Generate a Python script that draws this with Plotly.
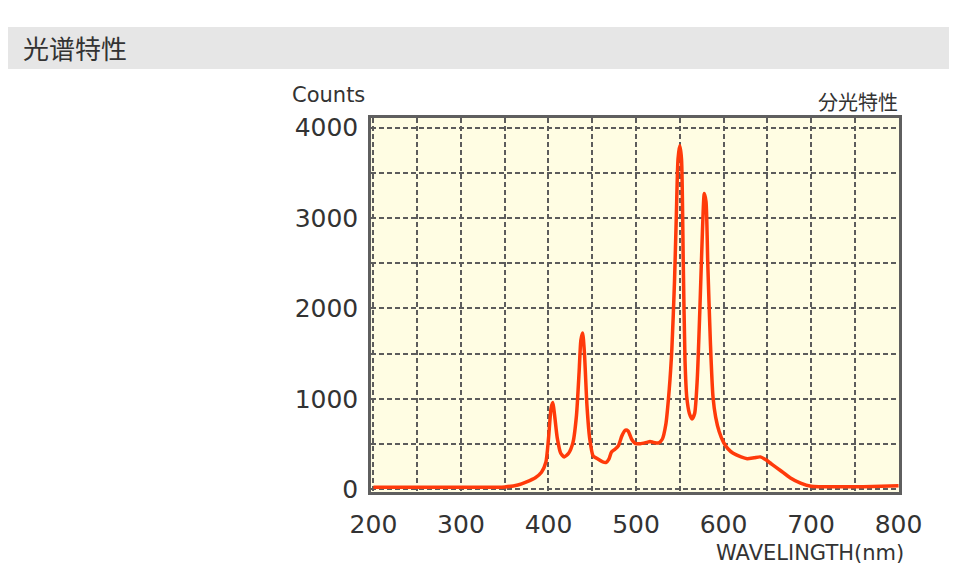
import plotly.graph_objects as go

# Spectral curve (wavelength nm, counts)
wavelength = [200, 300, 350, 365, 375, 385, 392, 397, 400, 403, 405, 407, 410, 414, 418,
              423, 428, 432, 435, 437, 439, 441, 444, 447, 451, 456, 462, 466, 469, 472,
              476, 480, 484, 488, 491, 495, 499, 505, 512, 516, 520, 526, 530, 534, 538,
              541, 544, 546, 548, 550, 552, 554, 556, 558, 561, 564, 567, 570, 573, 576,
              578, 580, 582, 585, 588, 591, 595, 600, 605, 611, 620, 627, 635, 642, 648,
              655, 665, 676, 688, 700, 750, 770, 800]
counts = [25, 25, 28, 50, 85, 130, 190, 300, 560, 900, 960, 820, 570, 400, 360,
          400, 520, 820, 1300, 1650, 1730, 1520, 920, 570, 370, 340, 305, 300, 335, 415,
          445, 485, 595, 655, 645, 555, 510, 505, 520, 530, 520, 515, 555, 715, 1110,
          1560, 2300, 3000, 3650, 3800, 3650, 2500, 1420, 1020, 840, 780, 840, 1220, 2000, 2880,
          3270, 3180, 2500, 1620, 1020, 800, 640, 520, 450, 400, 360, 340, 350, 360, 330,
          280, 210, 130, 70, 35, 30, 32, 40]

x_ticks = [200, 300, 400, 500, 600, 700, 800]
y_ticks = [0, 1000, 2000, 3000, 4000]

fig = go.Figure()
fig.add_trace(go.Scatter(x=wavelength, y=counts, mode="lines",
                         line=dict(color="#ff3a0a", width=3.5, shape="spline", smoothing=0.6),
                         hoverinfo="skip", showlegend=False))

grid_style = dict(showgrid=True, gridcolor="#5c5c5c", griddash="5px,3px", gridwidth=1.5)

fig.update_layout(
    width=949, height=577,
    margin=dict(l=363, r=58, t=110, b=93),
    paper_bgcolor="white",
    plot_bgcolor="#fffde3",
    font=dict(family="DejaVu Sans", color="#333333"),
    xaxis=dict(range=[197.2, 800.5], tickvals=x_ticks, ticktext=[str(v) for v in x_ticks],
               showline=True, linecolor="#5f5f5f", linewidth=2.5, mirror=True,
               ticks="", zeroline=False, tickfont=dict(size=25, color="#333333"),
               ticklabelstandoff=8,
               minor=dict(dtick=50, tick0=200, **grid_style), **grid_style),
    yaxis=dict(range=[-28, 4105], tickvals=y_ticks, ticktext=[str(v) for v in y_ticks],
               showline=True, linecolor="#5f5f5f", linewidth=2.5, mirror=True,
               ticks="", zeroline=False, tickfont=dict(size=25, color="#333333"),
               ticklabelstandoff=5,
               minor=dict(dtick=500, tick0=0, **grid_style), **grid_style),
    shapes=[dict(type="rect", xref="paper", yref="paper", x0=-0.689, x1=1.12,
                 y0=1.131, y1=1.243, fillcolor="#e6e6e6", line=dict(width=0), layer="below")],
    annotations=[
        dict(text="光谱特性", xref="paper", yref="paper", x=-0.663, y=1.188,
             xanchor="left", yanchor="middle", showarrow=False,
             font=dict(family="Noto Sans CJK SC", size=26, color="#333333")),
        dict(text="Counts", xref="paper", yref="paper", x=-0.0814, y=1.061,
             xanchor="center", yanchor="middle", showarrow=False,
             font=dict(family="DejaVu Sans", size=21, color="#333333")),
        dict(text="分光特性", xref="paper", yref="paper", x=1.002, y=1.045,
             xanchor="right", yanchor="middle", showarrow=False,
             font=dict(family="Noto Sans CJK JP", size=20, color="#333333")),
        dict(text="WAVELINGTH(nm)", xref="paper", yref="paper", x=1.013, y=-0.163,
             xanchor="right", yanchor="middle", showarrow=False,
             font=dict(family="DejaVu Sans", size=21, color="#333333")),
    ],
)

fig.write_html("out.html")
